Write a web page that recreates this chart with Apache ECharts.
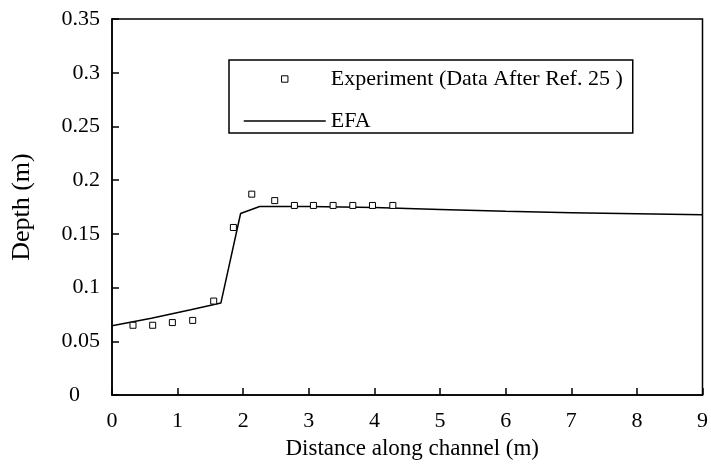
<!DOCTYPE html>
<html>
<head>
<meta charset="utf-8">
<script src="https://cdn.jsdelivr.net/npm/echarts@6/dist/echarts.min.js"></script>
<style>html,body{margin:0;padding:0;background:#fff}#c{width:711px;height:465px}</style>
</head>
<body>
<div id="c"></div>
<script>
const expX = [0.32, 0.62, 0.92, 1.23, 1.55, 1.85, 2.13, 2.48, 2.78, 3.07, 3.37, 3.67, 3.97, 4.28];
const expY = [0.065, 0.065, 0.0675, 0.0695, 0.0875, 0.156, 0.187, 0.181, 0.1765, 0.1765, 0.1765, 0.1765, 0.1765, 0.1765];
const efaX = [0, 0.6, 1.2, 1.66, 1.96, 2.25, 3, 4, 5, 6, 7, 8, 9];
const efaY = [0.0645, 0.0715, 0.0795, 0.0858, 0.169, 0.1755, 0.1755, 0.1745, 0.1728, 0.171, 0.1698, 0.1688, 0.1678];
const expName = 'Experiment (Data After Ref. 25 )';
const efaName = 'EFA';
const xTitle = 'Distance along channel (m)';
const yTitle = 'Depth (m)';

const FONT = 'Liberation Serif';
const chart = echarts.init(document.getElementById('c'), null, {renderer: 'canvas'});
chart.setOption({
  animation: false,
  backgroundColor: '#fff',
  grid: {left: 112, right: 7, top: 19, bottom: 69, show: true, borderColor: '#000', borderWidth: 1.5},
  legend: {
    left: 229, top: 60, orient: 'vertical',
    borderColor: '#000', borderWidth: 1.5, padding: [8, 10, 1, 14],
    itemWidth: 82, itemHeight: 8, itemGap: 20,
    textStyle: {fontFamily: FONT, fontSize: 22, color: '#000'},
    data: [
      {name: expName, itemStyle: {color: '#fff', borderColor: '#000', borderWidth: 1}},
      {name: efaName, itemStyle: {opacity: 0}, lineStyle: {color: '#000', width: 1.5}}
    ]
  },
  xAxis: {
    type: 'value', min: 0, max: 9, interval: 1,
    name: xTitle, nameLocation: 'middle', nameGap: 39,
    nameTextStyle: {fontFamily: FONT, fontSize: 23, color: '#000', padding: [0, 0, 0, 10]},
    axisLine: {show: true, lineStyle: {color: '#000', width: 1.5}},
    axisTick: {show: true, inside: true, length: 7, lineStyle: {color: '#000', width: 1.5}},
    axisLabel: {fontFamily: FONT, fontSize: 22, color: '#000', margin: 15},
    splitLine: {show: false}
  },
  yAxis: {
    type: 'value', min: 0, max: 0.35, interval: 0.05,
    name: yTitle, nameLocation: 'middle', nameGap: 77,
    nameTextStyle: {fontFamily: FONT, fontSize: 26, color: '#000'},
    axisLine: {show: true, lineStyle: {color: '#000', width: 1.5}},
    axisTick: {show: true, inside: true, length: 7, lineStyle: {color: '#000', width: 1.5}},
    axisLabel: {
      fontFamily: FONT, fontSize: 22, color: '#000', margin: 12,
      formatter: v => v === 0 ? '{z|0}' : String(v),
      rich: {z: {fontFamily: FONT, fontSize: 22, color: '#000', padding: [0, 20, 0, 0]}}
    },
    splitLine: {show: false}
  },
  series: [
    {
      name: expName, type: 'line',
      data: expX.map((x, i) => [x, expY[i]]),
      symbol: 'rect', symbolSize: 6, showSymbol: true,
      lineStyle: {width: 0, opacity: 0},
      itemStyle: {color: '#fff', borderColor: '#000', borderWidth: 1},
      z: 3
    },
    {
      name: efaName, type: 'line',
      data: efaX.map((x, i) => [x, efaY[i]]),
      showSymbol: false, symbol: 'none',
      lineStyle: {color: '#000', width: 1.5},
      z: 2
    }
  ]
});
</script>
</body>
</html>
